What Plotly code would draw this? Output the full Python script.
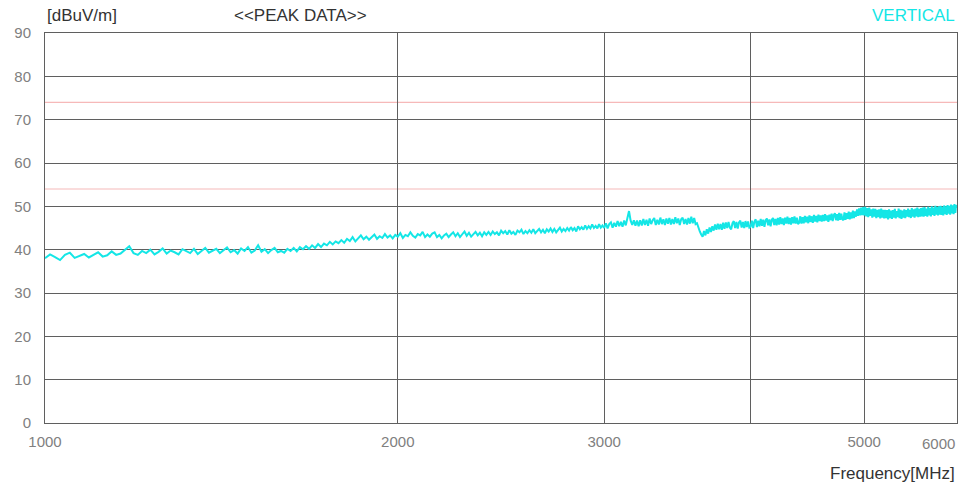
import numpy as np
import plotly.graph_objects as go

# Sweep: 1000 MHz to 6000 MHz in 10 MHz steps
f_start, f_stop, f_step = 1000, 6000, 10
freq_mhz = np.arange(f_start, f_stop + f_step, f_step)

# Peak detector readings, vertical polarization [dBuV/m], 20 points per row
peak_dbuv = [
    38.0, 38.9, 38.3, 37.6, 38.8, 39.3, 38.1, 38.5, 39.0, 38.2, 38.9, 39.4, 38.4, 38.7, 39.6, 38.8, 39.1, 39.9, 40.8, 39.2,
    38.8, 39.7, 39.2, 40.0, 38.9, 39.5, 40.3, 39.1, 39.8, 39.4, 38.9, 40.1, 39.6, 39.2, 40.2, 39.0, 39.7, 40.4, 39.3, 39.8,
    40.2, 39.2, 39.8, 40.5, 39.4, 39.9, 39.1, 40.3, 39.7, 40.6, 39.3, 39.8, 41.0, 39.5, 40.1, 39.2, 39.9, 40.4, 39.4, 39.7,
    39.3, 40.2, 39.7, 40.4, 39.6, 40.6, 40.1, 40.8, 40.2, 41.0, 40.4, 41.3, 40.6, 41.4, 41.0, 41.8, 41.2, 41.9, 41.5, 42.2,
    41.6, 42.5, 42.0, 42.9, 41.9, 42.7, 43.3, 42.4, 43.0, 42.3, 42.8, 43.5, 42.5, 43.1, 42.7, 43.6, 42.8, 43.3, 42.6, 43.4,
    43.0, 43.8, 42.7, 43.4, 43.1, 44.0, 43.2, 42.8, 43.6, 43.3, 44.1, 42.9, 43.5, 43.0, 43.7, 44.0, 42.9, 43.4, 42.6, 43.3,
    43.7, 42.9, 43.5, 44.0, 43.1, 43.8, 42.9, 43.6, 44.2, 43.2, 43.9, 43.0, 43.6, 44.1, 43.3, 43.9, 43.1, 44.0, 43.4, 44.1,
    43.4, 44.2, 43.6, 44.0, 43.3, 44.4, 43.8, 44.3, 43.5, 44.5, 43.7, 44.1, 43.4, 44.4, 44.0, 44.6, 43.6, 44.3, 43.8, 44.5,
    43.9, 44.7, 43.8, 44.4, 44.8, 44.0, 44.6, 43.8, 44.7, 44.2, 44.9, 44.1, 44.8, 44.0, 44.6, 45.1, 44.2, 44.8, 44.3, 45.0,
    44.4, 45.2, 44.5, 45.0, 44.2, 45.4, 44.7, 45.2, 44.6, 45.6, 44.8, 45.4, 44.9, 45.8, 45.0, 45.5, 44.9, 45.9, 45.1, 45.6,
    45.0, 46.1, 44.9, 45.9, 46.3, 45.1, 46.2, 45.3, 46.6, 45.4, 46.4, 45.3, 46.7, 45.6, 47.3, 48.9, 46.7, 45.7, 46.8, 45.5,
    46.7, 45.4, 46.8, 45.6, 47.1, 45.7, 46.9, 45.5, 47.2, 45.9, 46.8, 47.3, 45.7, 46.9, 45.8, 47.4, 45.9, 47.0, 45.7, 47.2,
    46.0, 47.3, 45.8, 47.1, 45.9, 47.5, 46.1, 47.2, 45.7, 47.0, 47.4, 45.9, 47.1, 45.8, 47.3, 46.0, 47.6, 46.1, 47.3, 45.9,
    46.1, 44.9, 44.2, 43.5, 43.0, 44.3, 43.3, 44.7, 43.7, 45.1, 44.1, 45.4, 44.4, 45.8, 44.6, 46.0, 44.7, 45.9, 44.6, 46.2,
    44.8, 46.3, 45.0, 46.4, 45.1, 44.7, 46.1, 46.6, 45.0, 46.4, 44.9, 46.3, 46.7, 45.1, 46.4, 45.0, 46.6, 45.2, 46.5, 45.1,
    45.3, 46.7, 45.0, 46.5, 47.0, 45.2, 46.7, 45.4, 47.1, 45.5, 46.9, 45.3, 46.8, 47.2, 45.6, 47.0, 45.4, 46.9, 47.3, 45.7,
    47.1, 45.6, 47.3, 45.8, 47.5, 45.9, 47.2, 45.7, 47.4, 46.0, 47.6, 45.9, 47.3, 45.8, 47.5, 46.1, 47.7, 46.0, 47.4, 45.9,
    46.2, 47.7, 46.0, 47.5, 46.1, 47.8, 46.3, 47.6, 46.1, 47.9, 46.4, 47.7, 46.2, 48.0, 46.5, 47.8, 46.3, 48.1, 46.6, 47.9,
    46.5, 48.0, 46.6, 48.2, 46.7, 47.9, 46.4, 48.1, 46.8, 48.3, 46.6, 48.0, 48.4, 46.8, 48.2, 46.7, 48.5, 46.9, 48.3, 47.0,
    46.8, 48.6, 46.9, 48.4, 47.1, 48.8, 47.0, 48.6, 47.2, 49.0, 47.3, 48.8, 47.6, 49.3, 47.8, 49.5, 47.9, 49.7, 48.0, 49.8,
    47.9, 49.9, 47.7, 49.6, 47.5, 49.7, 47.8, 49.3, 47.4, 49.5, 47.6, 49.4, 47.3, 49.2, 47.5, 49.3, 47.2, 49.5, 47.4, 49.2,
    47.2, 49.2, 47.3, 49.1, 47.0, 49.3, 47.3, 49.0, 47.1, 49.1, 47.4, 49.4, 47.2, 48.9, 47.5, 49.5, 47.3, 49.2, 47.1, 49.0,
    47.4, 49.3, 47.3, 49.1, 47.6, 49.5, 47.5, 49.2, 47.3, 49.6, 47.6, 49.3, 47.4, 49.5, 47.7, 49.7, 47.5, 49.4, 47.6, 49.6,
    47.7, 49.7, 47.6, 49.8, 47.8, 49.5, 47.6, 49.9, 47.9, 49.6, 47.7, 50.0, 48.0, 49.7, 47.8, 50.1, 48.1, 49.8, 47.9, 50.0,
    48.1, 50.1, 48.0, 49.9, 47.9, 50.2, 48.2, 50.0, 48.0, 50.3, 48.3, 50.1, 48.1, 50.4, 48.4, 50.2, 48.2, 50.5, 48.5, 50.3,
    49.6,
]

# Limit lines [dBuV/m]
limit_levels = [74, 54]

# Axis ticks (4000 MHz gets a grid line but no label)
x_tick_vals = [1000, 2000, 3000, 4000, 5000, 6000]
x_tick_text = ["1000", "2000", "3000", "", "5000", "6000"]
y_tick_vals = [0, 10, 20, 30, 40, 50, 60, 70, 80, 90]

TRACE_COLOR = "#14e6e6"
GRID_COLOR = "#5f5f5f"
LIMIT_COLOR = "#f6b9b9"
TEXT_FONT = "Liberation Sans"

fig = go.Figure()

for lvl in limit_levels:
    fig.add_hline(y=lvl, line=dict(color=LIMIT_COLOR, width=1.2), layer="below")

fig.add_trace(go.Scatter(
    x=freq_mhz, y=peak_dbuv, mode="lines",
    line=dict(color=TRACE_COLOR, width=2),
    hoverinfo="x+y", showlegend=False,
))

tick_font = dict(family=TEXT_FONT, size=15, color="#808080")

# The last label sits at the right edge, so it is placed right-aligned
# against its grid line instead of centered on it.
edge_text = x_tick_text[-1]
axis_text = x_tick_text[:-1] + [""]

fig.update_xaxes(
    type="log",
    range=[np.log10(f_start), np.log10(f_stop)],
    tickvals=x_tick_vals, ticktext=axis_text,
    showgrid=True, gridcolor=GRID_COLOR, gridwidth=1,
    showline=True, linecolor=GRID_COLOR, linewidth=1, mirror=True,
    ticks="", ticklabelstandoff=5,
    tickfont=tick_font,
    zeroline=False,
)
fig.update_yaxes(
    range=[0, 90],
    tickvals=y_tick_vals,
    showgrid=True, gridcolor=GRID_COLOR, gridwidth=1,
    showline=True, linecolor=GRID_COLOR, linewidth=1, mirror=True,
    ticks="", ticklabelstandoff=10,
    tickfont=tick_font,
    zeroline=False,
)

fig.add_annotation(text=edge_text, xref="x", yref="paper",
                   x=np.log10(x_tick_vals[-1]), y=0,
                   xanchor="right", yanchor="top", yshift=-10, showarrow=False,
                   font=tick_font)

label_font = dict(family=TEXT_FONT, size=17, color="#333333")
fig.add_annotation(text="[dBuV/m]", xref="paper", yref="paper", x=0, y=1,
                   xanchor="left", yanchor="bottom", yshift=6, showarrow=False,
                   font=label_font)
fig.add_annotation(text="&lt;&lt;PEAK DATA&gt;&gt;", xref="paper", yref="paper", x=0.205, y=1,
                   xanchor="left", yanchor="bottom", yshift=6, showarrow=False,
                   font=label_font)
fig.add_annotation(text="VERTICAL", xref="paper", yref="paper", x=1, y=1,
                   xanchor="right", yanchor="bottom", yshift=6, showarrow=False,
                   font=dict(family=TEXT_FONT, size=17, color=TRACE_COLOR))
fig.add_annotation(text="Frequency[MHz]", xref="paper", yref="paper", x=1, y=0,
                   xanchor="right", yanchor="top", yshift=-39, showarrow=False,
                   font=label_font)

fig.update_layout(
    width=961, height=487,
    margin=dict(l=45, r=4, t=33, b=64),
    plot_bgcolor="white", paper_bgcolor="white",
    showlegend=False,
)

fig.write_html("out.html")
